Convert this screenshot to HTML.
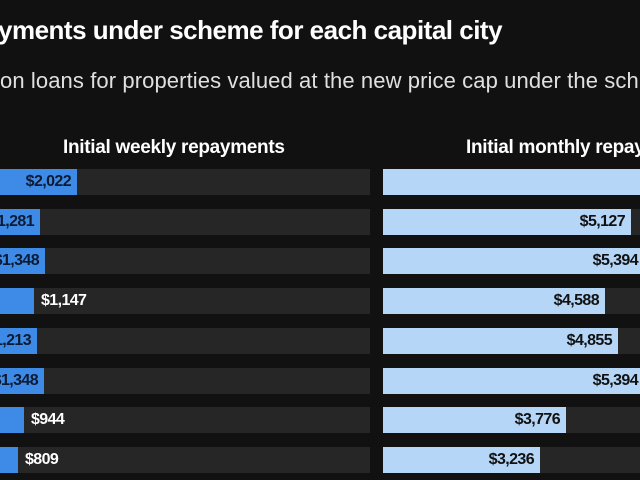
<!DOCTYPE html>
<html><head><style>
html,body{margin:0;padding:0;width:640px;height:480px;overflow:hidden;}
body{background:#111111;font-family:"Liberation Sans",sans-serif;}
#w{position:relative;width:640px;height:480px;overflow:hidden;}
.t{position:absolute;white-space:nowrap;}
.track{position:absolute;background:#262626;height:26px;}
.bar{position:absolute;height:26px;}
.lab{position:absolute;font-size:16px;font-weight:bold;line-height:26px;white-space:nowrap;letter-spacing:-0.6px;}
</style></head><body><div id="w">
<div class="t" style="left:-2px;top:15px;font-size:26px;font-weight:bold;color:#fff;letter-spacing:-0.5px;">yments under scheme for each capital city</div>
<div class="t" style="left:0;top:68px;font-size:22px;color:#e0e0e0;letter-spacing:0.1px;">on loans for properties valued at the new price cap under the sch</div>
<div class="t" style="left:63px;top:137px;font-size:19px;font-weight:bold;color:#fff;letter-spacing:-0.3px;">Initial weekly repayments</div>
<div class="t" style="left:466px;top:137px;font-size:19px;font-weight:bold;color:#fff;letter-spacing:-0.3px;">Initial monthly repayments</div>
<div id="c"></div>
</div>
<script>
var L=[["$2,022",77,1],["$1,281",40,1],["$1,348",45,1],["$1,147",34,0],["$1,213",37,1],["$1,348",44,1],["$944",24,0],["$809",18,0]];
var R=[["$6,000",660],["$5,127",631],["$5,394",644],["$4,588",605],["$4,855",618],["$5,394",644],["$3,776",566],["$3,236",540]];
var h="";
for(var i=0;i<8;i++){
 var y=169+i*39.7;
 h+='<div class="track" style="left:0;width:370px;top:'+y+'px"></div>';
 h+='<div class="bar" style="left:0;width:'+L[i][1]+'px;top:'+y+'px;background:#3d8be6"></div>';
 if(L[i][2]) h+='<div class="lab" style="right:'+(640-L[i][1]+6)+'px;top:'+y+'px;color:#0d1a33">'+L[i][0]+'</div>';
 else h+='<div class="lab" style="left:'+(L[i][1]+7)+'px;top:'+y+'px;color:#fff">'+L[i][0]+'</div>';
 h+='<div class="track" style="left:383px;width:257px;top:'+y+'px"></div>';
 h+='<div class="bar" style="left:383px;width:'+(Math.min(R[i][1],640)-383)+'px;top:'+y+'px;background:#b6d6f7"></div>';
 if(i>0) h+='<div class="lab" style="right:'+Math.max(2,640-R[i][1]+6)+'px;top:'+y+'px;color:#111">'+R[i][0]+'</div>';
}
document.getElementById("c").innerHTML=h;
</script>
</body></html>
